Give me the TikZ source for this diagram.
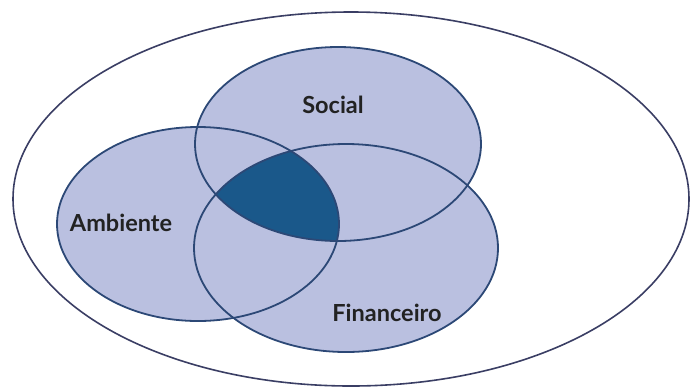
\documentclass[tikz,border=0pt]{standalone}
\usepackage{fontspec}
\setmainfont{Lato}
\definecolor{setfill}{RGB}{186,192,224}
\definecolor{setline}{RGB}{44,72,118}
\definecolor{corefill}{RGB}{26,88,138}
\definecolor{outerline}{RGB}{58,62,100}
\definecolor{labeltext}{RGB}{34,34,34}
\begin{document}
\begin{tikzpicture}[x=1pt,y=-1pt,
  setedge/.style={draw=setline,line width=1.8pt},
  setlabel/.style={text=labeltext,font=\bfseries\fontsize{23.5}{27}\selectfont,inner sep=0pt}]
\useasboundingbox (0,0) rectangle (690,389);
% universe
\draw[draw=outerline,line width=1.6pt] (351,199) ellipse [x radius=338,y radius=187];
% the three sets, filled first
\fill[setfill] (338,144) ellipse [x radius=143,y radius=97];
\fill[setfill] (198,224) ellipse [x radius=141,y radius=97];
\fill[setfill] (346,248) ellipse [x radius=152,y radius=104];
% common core of all three sets
\begin{scope}
  \clip (338,144) ellipse [x radius=143,y radius=97];
  \clip (198,224) ellipse [x radius=141,y radius=97];
  \fill[corefill] (346,248) ellipse [x radius=152,y radius=104];
\end{scope}
% outlines on top
\draw[setedge] (338,144) ellipse [x radius=143,y radius=97];
\draw[setedge] (198,224) ellipse [x radius=141,y radius=97];
\draw[setedge] (346,248) ellipse [x radius=152,y radius=104];
% labels
\node[setlabel] (social) at (333,105) {Social};
\node[setlabel] (ambiente) at (121,223) {Ambiente};
\node[setlabel] (financeiro) at (387,313) {Financeiro};
\end{tikzpicture}
\end{document}
